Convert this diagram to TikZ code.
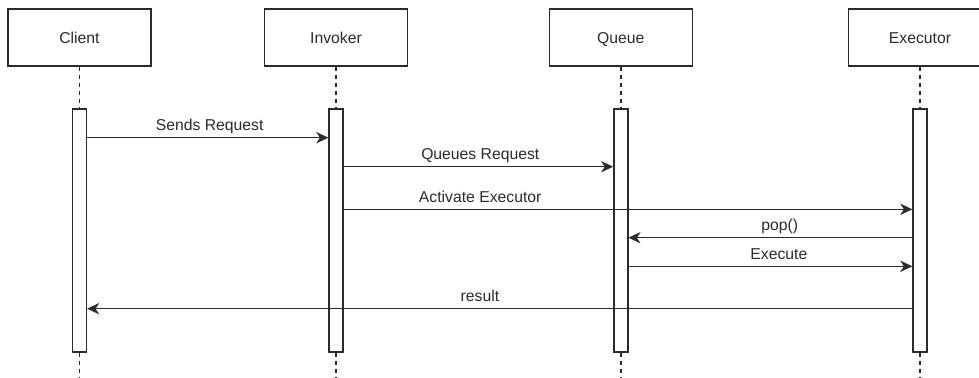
\documentclass[tikz,border=0pt]{standalone}
\usepackage{fontspec}
\setmainfont{Liberation Sans}
\usetikzlibrary{arrows.meta}
\definecolor{ink}{HTML}{2b2b2b}
\begin{document}
\begin{tikzpicture}[x=0.75pt,y=-0.75pt,
  every node/.style={font=\fontsize{11.8}{14}\selectfont, text=ink},
  head/.style={draw=ink, line width=1.1pt, minimum width=107.25pt, minimum height=42.75pt, inner sep=0pt, text height=8.45pt, text depth=0pt},
  act/.style={draw=ink, fill=white, line width=1.1pt, minimum width=10.5pt, minimum height=182.25pt, inner sep=0pt},
  life/.style={draw=ink, line width=1.1pt, dash pattern=on 3pt off 3pt},
  msg/.style={draw=ink, line width=1.1pt, -{Stealth[length=9pt,width=8.5pt,inset=2.8pt,line width=0.6pt]}},
  lbl/.style={anchor=base, yshift=5.25pt}
]
\clip (0,0) rectangle (979,378);
\fill[white] (0,0) rectangle (979,378);

% heads
\node[head] (hC) at (79.5,37.5) {Client};
\node[head] (hI) at (336,37.5) {Invoker};
\node[head] (hQ) at (620.8,37.5) {Queue};
\node[head] (hE) at (920,37.5) {Executor};

% bottom ends of lifelines
\coordinate (bC) at (79.5,380);
\coordinate (bI) at (336,380);
\coordinate (bQ) at (620.8,380);
\coordinate (bE) at (920,380);

% activation bars
\node[act] (aC) at (79.5,230.5) {};
\node[act] (aI) at (336,230.5) {};
\node[act] (aQ) at (620.8,230.5) {};
\node[act] (aE) at (920,230.5) {};

% lifelines
\draw[life] (hC.south) -- (aC.north);
\draw[life] (hI.south) -- (aI.north);
\draw[life] (hQ.south) -- (aQ.north);
\draw[life] (hE.south) -- (aE.north);
\draw[life] (aC.south) -- (bC);
\draw[life] (aI.south) -- (bI);
\draw[life] (aQ.south) -- (bQ);
\draw[life] (aE.south) -- (bE);

% messages
\draw[msg] (aC.east |- 0,137.7) -- node[lbl,pos=0.508]{Sends Request} (aI.west |- 0,137.7);
\draw[msg] (aI.east |- 0,166.7) -- node[lbl,pos=0.507]{Queues Request} (aQ.west |- 0,166.7);
\draw[msg] (aI.east |- 0,209.3) -- node[lbl,pos=0.24]{Activate Executor} (aE.west |- 0,209.3);
\draw[msg] (aE.west |- 0,237.7) -- node[lbl,pos=0.467]{pop()} (aQ.east |- 0,237.7);
\draw[msg] (aQ.east |- 0,266.3) -- node[lbl,pos=0.53]{Execute} (aE.west |- 0,266.3);
\draw[msg] (aE.west |- 0,308.7) -- node[lbl,pos=0.524]{result} (aC.east |- 0,308.7);
\end{tikzpicture}
\end{document}
